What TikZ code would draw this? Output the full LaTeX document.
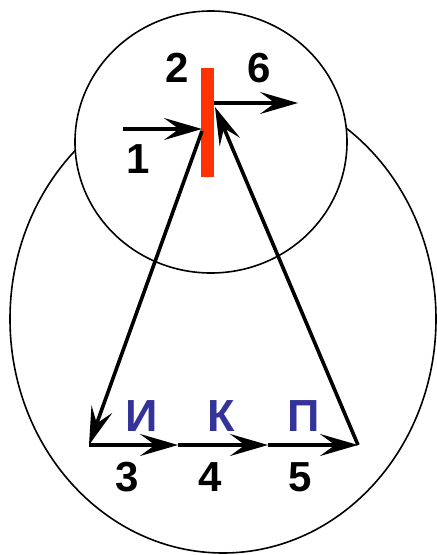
\documentclass[tikz,border=0pt]{standalone}
\usepackage{fontspec}
\setmainfont{Liberation Sans}
\usetikzlibrary{arrows.meta}
\definecolor{BarClr}{RGB}{255,51,0}
\definecolor{LetterClr}{RGB}{51,51,153}
\tikzset{
  flow/.style={line width=3.6pt,-{Stealth[length=38pt,width=22pt,inset=15pt]}},
  num/.style={font=\fontsize{42}{42}\selectfont\bfseries,inner sep=0pt},
  letter/.style={font=\fontsize{45}{45}\selectfont\bfseries,text=LetterClr,inner sep=0pt}
}
\begin{document}
\begin{tikzpicture}[x=1pt,y=-1pt]
\useasboundingbox (0,0) rectangle (437,555);

\draw[line width=1.6pt] (223,319) ellipse [x radius=213pt,y radius=234pt];
\draw[line width=1.6pt,fill=white] (211,142) ellipse [x radius=136pt,y radius=131pt];

\node[fill=BarClr,minimum width=13pt,minimum height=109pt,inner sep=0pt] (bar) at (207,122.5) {};

\coordinate (in) at (123,129);
\coordinate (hit) at (202,129);
\coordinate (down) at (202,131);
\coordinate (back) at (215,107);
\coordinate (exit) at (214,103);
\coordinate (out) at (298,103);
\coordinate (p3) at (89,445);
\coordinate (p4) at (178,445);
\coordinate (p5) at (268,445);
\coordinate (p6) at (358,445);

\draw[flow] (in) -- (hit);
\draw[flow] (down) -- (p3);
\draw[flow] (p3) -- (p4);
\draw[flow] (p4) -- (p5);
\draw[flow] (p5) -- (p6);
\draw[flow] (p6) -- (back);
\draw[flow] (exit) -- (out);

\node[num] (n1) at (138,159) {1};
\node[num] (n2) at (177,68) {2};
\node[num] (n6) at (259,68) {6};
\node[num] (n3) at (127,477) {3};
\node[num] (n4) at (210,477) {4};
\node[num] (n5) at (300,477) {5};

\node[letter] (li) at (142,416) {И};
\node[letter] (lk) at (221,416) {К};
\node[letter] (lp) at (304,416) {П};

\end{tikzpicture}
\end{document}
